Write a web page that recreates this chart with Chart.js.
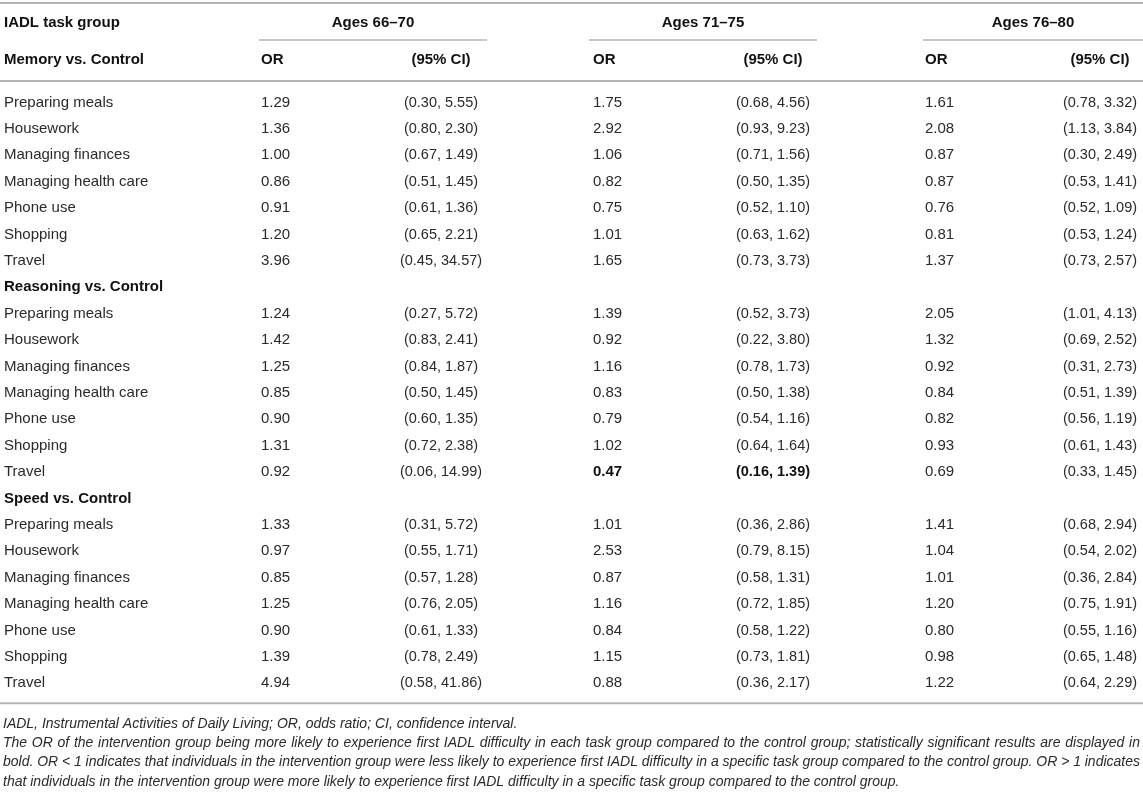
<!DOCTYPE html>
<html>
<head>
<meta charset="utf-8">
<title>IADL odds ratios by age group</title>
<script src="https://cdn.jsdelivr.net/npm/chart.js@4.4.1/dist/chart.umd.min.js"></script>
<style>
  html, body { margin: 0; padding: 0; background: #ffffff; }
  #wrap { position: relative; width: 1143px; height: 793px; }
  canvas { display: block; }
</style>
</head>
<body>
<div id="wrap"><canvas id="chart" width="1143" height="793"></canvas></div>
<script>
// ---------------- DATA ----------------
const firstColumnHeader = 'IADL task group';
const taskGroups = ['Memory vs. Control', 'Reasoning vs. Control', 'Speed vs. Control'];
const tasks = ['Preparing meals', 'Housework', 'Managing finances', 'Managing health care', 'Phone use', 'Shopping', 'Travel'];
const ageGroups = ['Ages 66–70', 'Ages 71–75', 'Ages 76–80'];
const subHeaders = ['OR', '(95% CI)'];

// 21 values each: Memory (7 tasks), Reasoning (7 tasks), Speed (7 tasks)
const or66_70     = [1.29, 1.36, 1.00, 0.86, 0.91, 1.20, 3.96,  1.24, 1.42, 1.25, 0.85, 0.90, 1.31, 0.92,  1.33, 0.97, 0.85, 1.25, 0.90, 1.39, 4.94];
const ciLow66_70  = [0.30, 0.80, 0.67, 0.51, 0.61, 0.65, 0.45,  0.27, 0.83, 0.84, 0.50, 0.60, 0.72, 0.06,  0.31, 0.55, 0.57, 0.76, 0.61, 0.78, 0.58];
const ciHigh66_70 = [5.55, 2.30, 1.49, 1.45, 1.36, 2.21, 34.57, 5.72, 2.41, 1.87, 1.45, 1.35, 2.38, 14.99, 5.72, 1.71, 1.28, 2.05, 1.33, 2.49, 41.86];

const or71_75     = [1.75, 2.92, 1.06, 0.82, 0.75, 1.01, 1.65,  1.39, 0.92, 1.16, 0.83, 0.79, 1.02, 0.47,  1.01, 2.53, 0.87, 1.16, 0.84, 1.15, 0.88];
const ciLow71_75  = [0.68, 0.93, 0.71, 0.50, 0.52, 0.63, 0.73,  0.52, 0.22, 0.78, 0.50, 0.54, 0.64, 0.16,  0.36, 0.79, 0.58, 0.72, 0.58, 0.73, 0.36];
const ciHigh71_75 = [4.56, 9.23, 1.56, 1.35, 1.10, 1.62, 3.73,  3.73, 3.80, 1.73, 1.38, 1.16, 1.64, 1.39,  2.86, 8.15, 1.31, 1.85, 1.22, 1.81, 2.17];

const or76_80     = [1.61, 2.08, 0.87, 0.87, 0.76, 0.81, 1.37,  2.05, 1.32, 0.92, 0.84, 0.82, 0.93, 0.69,  1.41, 1.04, 1.01, 1.20, 0.80, 0.98, 1.22];
const ciLow76_80  = [0.78, 1.13, 0.30, 0.53, 0.52, 0.53, 0.73,  1.01, 0.69, 0.31, 0.51, 0.56, 0.61, 0.33,  0.68, 0.54, 0.36, 0.75, 0.55, 0.65, 0.64];
const ciHigh76_80 = [3.32, 3.84, 2.49, 1.41, 1.09, 1.24, 2.57,  4.13, 2.52, 2.73, 1.39, 1.19, 1.43, 1.45,  2.94, 2.02, 2.84, 1.91, 1.16, 1.48, 2.29];

// statistically significant cells [taskGroup, task, ageGroup] (shown in bold)
const significantCells = [[1, 6, 1]];

const footnoteLines = [
  'IADL, Instrumental Activities of Daily Living; OR, odds ratio; CI, confidence interval.',
  'The OR of the intervention group being more likely to experience first IADL difficulty in each task group compared to the control group; statistically significant results are displayed in',
  'bold. OR < 1 indicates that individuals in the intervention group were less likely to experience first IADL difficulty in a specific task group compared to the control group. OR > 1 indicates',
  'that individuals in the intervention group were more likely to experience first IADL difficulty in a specific task group compared to the control group.'
];
const footnoteJustified = [false, true, true, false];

// ---------------- LAYOUT ----------------
const W = 1143, H = 793;
const ROW_PITCH = 26.4, FIRST_ROW_Y = 102.5;
const HEADER1_Y = 23, HEADER2_Y = 60;
const TOP_RULE_Y = 3, GROUP_RULE_Y = 40, HEADER_RULE_Y = 81, BOTTOM_GAP = 20;
const FOOT_FIRST_Y = 724, FOOT_PITCH = 19.3;
const LABEL_X = 4;
const OR_X = [261, 593, 925];
const CI_X = [441, 773, 1100];
const GROUP_SPAN = [[259, 487], [589, 817], [923, 1143]];
const FONT = "'Liberation Sans', Arial, Helvetica, sans-serif";
const TEXT_COLOR = '#2a2a2a', BOLD_COLOR = '#111111', RULE_COLOR = '#b4b4b4';
const yv = px => (px - FIRST_ROW_Y) / ROW_PITCH;   // band position in row units

const orByAge = [or66_70, or71_75, or76_80];
const loByAge = [ciLow66_70, ciLow71_75, ciLow76_80];
const hiByAge = [ciHigh66_70, ciHigh71_75, ciHigh76_80];
const fmt = v => v.toFixed(2);
const isSig = (g, t, a) => significantCells.some(c => c[0] === g && c[1] === t && c[2] === a);

// ---------------- BUILD CELLS ----------------
const headerCells = [];
const bodyCells = [];
headerCells.push({ x: LABEL_X, y: yv(HEADER1_Y), text: firstColumnHeader, align: 'left', bold: true, size: 15 });
ageGroups.forEach((ag, a) => {
  headerCells.push({ x: (GROUP_SPAN[a][0] + GROUP_SPAN[a][1]) / 2, y: yv(HEADER1_Y), text: ag, align: 'center', bold: true, size: 15 });
  headerCells.push({ x: OR_X[a], y: yv(HEADER2_Y), text: subHeaders[0], align: 'left', bold: true, size: 15 });
  headerCells.push({ x: CI_X[a], y: yv(HEADER2_Y), text: subHeaders[1], align: 'center', bold: true, size: 15 });
});

let row = 0;
taskGroups.forEach((grp, g) => {
  if (g === 0) {
    headerCells.push({ x: LABEL_X, y: yv(HEADER2_Y), text: grp, align: 'left', bold: true, size: 15 });
  } else {
    bodyCells.push({ x: LABEL_X, y: row, text: grp, align: 'left', bold: true, size: 15 });
    row++;
  }
  tasks.forEach((task, t) => {
    const i = g * tasks.length + t;
    bodyCells.push({ x: LABEL_X, y: row, text: task, align: 'left', bold: false, size: 15 });
    ageGroups.forEach((ag, a) => {
      const b = isSig(g, t, a);
      bodyCells.push({ x: OR_X[a], y: row, text: fmt(orByAge[a][i]), align: 'left', bold: b, size: 15 });
      bodyCells.push({ x: CI_X[a], y: row, text: '(' + fmt(loByAge[a][i]) + ', ' + fmt(hiByAge[a][i]) + ')', align: 'center', bold: b, size: 14.5 });
    });
    row++;
  });
});
const lastRow = row - 1;

// ---------------- PLUGIN ----------------
const tablePlugin = {
  id: 'tablePlugin',
  beforeDatasetsDraw(chart) {
    const { ctx, scales: { x, y } } = chart;
    ctx.save();
    ctx.strokeStyle = RULE_COLOR;
    const hline = (yPx, x0, x1, lw) => {
      ctx.lineWidth = lw;
      ctx.beginPath(); ctx.moveTo(x0, yPx); ctx.lineTo(x1, yPx); ctx.stroke();
    };
    hline(y.getPixelForValue(yv(TOP_RULE_Y)), x.getPixelForValue(0), x.getPixelForValue(W), 2);
    GROUP_SPAN.forEach(s => hline(y.getPixelForValue(yv(GROUP_RULE_Y)), x.getPixelForValue(s[0]), x.getPixelForValue(s[1]), 1.5));
    hline(y.getPixelForValue(yv(HEADER_RULE_Y)), x.getPixelForValue(0), x.getPixelForValue(W), 2);
    const bottomY = y.getPixelForValue(lastRow) + BOTTOM_GAP;
    hline(bottomY, x.getPixelForValue(0), x.getPixelForValue(W), 2);
    ctx.restore();
  },
  afterDatasetsDraw(chart) {
    const { ctx } = chart;
    ctx.save();
    ctx.textBaseline = 'middle';
    chart.data.datasets.forEach((ds, di) => {
      const meta = chart.getDatasetMeta(di);
      meta.data.forEach((pt, k) => {
        const c = ds.data[k];
        ctx.font = (c.bold ? 'bold ' : '') + c.size + 'px ' + FONT;
        ctx.fillStyle = c.bold ? BOLD_COLOR : TEXT_COLOR;
        ctx.textAlign = c.align;
        ctx.fillText(c.text, pt.x, pt.y);
      });
    });
    // footnote (justified lines)
    ctx.font = 'italic 14px ' + FONT;
    ctx.fillStyle = TEXT_COLOR;
    ctx.textAlign = 'left';
    const left = LABEL_X - 1, right = W - 3;
    footnoteLines.forEach((line, li) => {
      const yPx = FOOT_FIRST_Y + li * FOOT_PITCH;
      if (!footnoteJustified[li]) { ctx.fillText(line, left, yPx); return; }
      const words = line.split(' ');
      const widths = words.map(w => ctx.measureText(w).width);
      const total = widths.reduce((s, w) => s + w, 0);
      const gap = Math.max(1.5, (right - left - total) / (words.length - 1));
      let xPos = left;
      words.forEach((w, wi) => { ctx.fillText(w, xPos, yPx); xPos += widths[wi] + gap; });
    });
    ctx.restore();
  }
};

// ---------------- CHART ----------------
new Chart(document.getElementById('chart'), {
  type: 'scatter',
  data: {
    datasets: [
      { label: 'header', data: headerCells, pointRadius: 0, pointHoverRadius: 0 },
      { label: 'body', data: bodyCells, pointRadius: 0, pointHoverRadius: 0 }
    ]
  },
  options: {
    responsive: false,
    animation: false,
    events: [],
    layout: { padding: 0 },
    plugins: { legend: { display: false }, tooltip: { enabled: false } },
    scales: {
      x: { type: 'linear', min: 0, max: W, display: false },
      y: { type: 'linear', reverse: true, min: yv(0), max: yv(H), display: false }
    }
  },
  plugins: [tablePlugin]
});
</script>
</body>
</html>
